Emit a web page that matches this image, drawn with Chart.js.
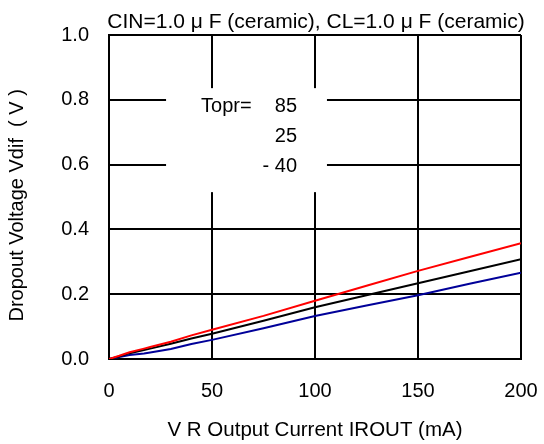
<!DOCTYPE html>
<html>
<head>
<meta charset="utf-8">
<script src="https://cdn.jsdelivr.net/npm/chart.js@4"></script>
<style>
  body { margin: 0; background: #fff; }
  #wrap { width: 544px; height: 444px; }
</style>
</head>
<body>
<div id="wrap"><canvas id="dropChart" width="544" height="444"></canvas></div>
<script>
// output current (mA)
const currents = [0, 5, 10, 17, 20, 30, 40, 50, 75, 100, 125, 150, 175, 200];
// dropout voltage (V) per Topr
const v85 = [0, 0.010, 0.021, 0.032, 0.037, 0.053, 0.073, 0.090, 0.133, 0.180, 0.226, 0.272, 0.315, 0.357];
const v25 = [0, 0.008, 0.018, 0.028, 0.032, 0.047, 0.063, 0.078, 0.118, 0.160, 0.197, 0.234, 0.271, 0.308];
const vM40 = [0, 0.006, 0.012, 0.017, 0.020, 0.031, 0.046, 0.059, 0.095, 0.133, 0.165, 0.197, 0.232, 0.266];
const toprLabels = ['85', '25', '- 40'];
const xTicks = [0, 50, 100, 150, 200];

const FONT = "'Liberation Sans', Arial, sans-serif";

function pts(ys) {
    return currents.map((c, i) => ({ x: c, y: ys[i] }));
}

// 제목 + Topr 주석
const textPlugin = {
    id: 'textPlugin',
    beforeDatasetsDraw(chart) {
        const ctx = chart.ctx;
        const xs = chart.scales.x, ys = chart.scales.y;
        ctx.save();
        // white box behind the Topr note
        const l = xs.getPixelForValue(27.7), r = xs.getPixelForValue(105.8);
        const t = ys.getPixelForValue(0.836), b = ys.getPixelForValue(0.515);
        ctx.fillStyle = '#fff';
        ctx.fillRect(l, t, r - l, b - t);

        ctx.fillStyle = '#000';
        ctx.font = '20px ' + FONT;
        ctx.textBaseline = 'alphabetic';
        ctx.textAlign = 'left';
        ctx.fillText('Topr=', xs.getPixelForValue(44.7), ys.getPixelForValue(0.762));
        ctx.textAlign = 'right';
        const nx = xs.getPixelForValue(91.3);
        toprLabels.forEach((s, i) => {
            ctx.fillText(s, nx, ys.getPixelForValue(0.762) + i * 30);
        });
        ctx.restore();
    },
    afterDraw(chart) {
        const ctx = chart.ctx;
        const a = chart.chartArea;
        ctx.save();
        ctx.fillStyle = '#000';
        ctx.font = '21px ' + FONT;
        ctx.textAlign = 'center';
        ctx.textBaseline = 'alphabetic';
        ctx.fillText('CIN=1.0 μ F (ceramic), CL=1.0 μ F (ceramic)', (a.left + a.right) / 2 + 1, 28);
        ctx.restore();
    }
};

const lineDs = (label, ys, color) => ({
    label: label,
    data: pts(ys),
    borderColor: color,
    backgroundColor: color,
    borderWidth: 2,
    pointRadius: 0,
    tension: 0,
    fill: false
});

const config = {
    type: 'line',
    data: {
        datasets: [
            lineDs('85', v85, '#ff0000'),
            lineDs('25', v25, '#000000'),
            lineDs('-40', vM40, '#000099')
        ]
    },
    options: {
        responsive: false,
        animation: false,
        layout: { padding: { top: 35, right: 23, bottom: 0, left: 0 } },
        plugins: {
            legend: { display: false },
            title: { display: false },
            tooltip: { enabled: false }
        },
        scales: {
            x: {
                type: 'linear',
                min: 0,
                max: 200,
                afterFit(scale) { scale.height = 85; },
                afterBuildTicks(scale) { scale.ticks = xTicks.map(v => ({ value: v })); },
                grid: { color: '#000', lineWidth: 2, drawTicks: true, tickLength: 20, tickColor: 'rgba(0,0,0,0)' },
                border: { color: '#000', width: 2 },
                ticks: { color: '#000', padding: 0, font: { family: FONT, size: 20 } },
                title: {
                    display: true,
                    text: 'V R Output Current IROUT (mA)',
                    color: '#000',
                    font: { family: FONT, size: 20.5 },
                    padding: { top: 0, bottom: 1 }
                }
            },
            y: {
                min: 0,
                max: 1,
                afterFit(scale) { scale.width = 109; },
                grid: { color: '#000', lineWidth: 2, drawTicks: false },
                border: { color: '#000', width: 2 },
                ticks: {
                    stepSize: 0.2,
                    color: '#000',
                    padding: 20,
                    font: { family: FONT, size: 20 },
                    callback: v => v.toFixed(1)
                },
                title: {
                    display: true,
                    text: 'Dropout Voltage Vdif  ( V )   ',
                    color: '#000',
                    font: { family: FONT, size: 20 },
                    padding: { top: 5, bottom: 0 }
                }
            }
        }
    },
    plugins: [textPlugin]
};

const dropChart = new Chart(document.getElementById('dropChart').getContext('2d'), config);
</script>
</body>
</html>
